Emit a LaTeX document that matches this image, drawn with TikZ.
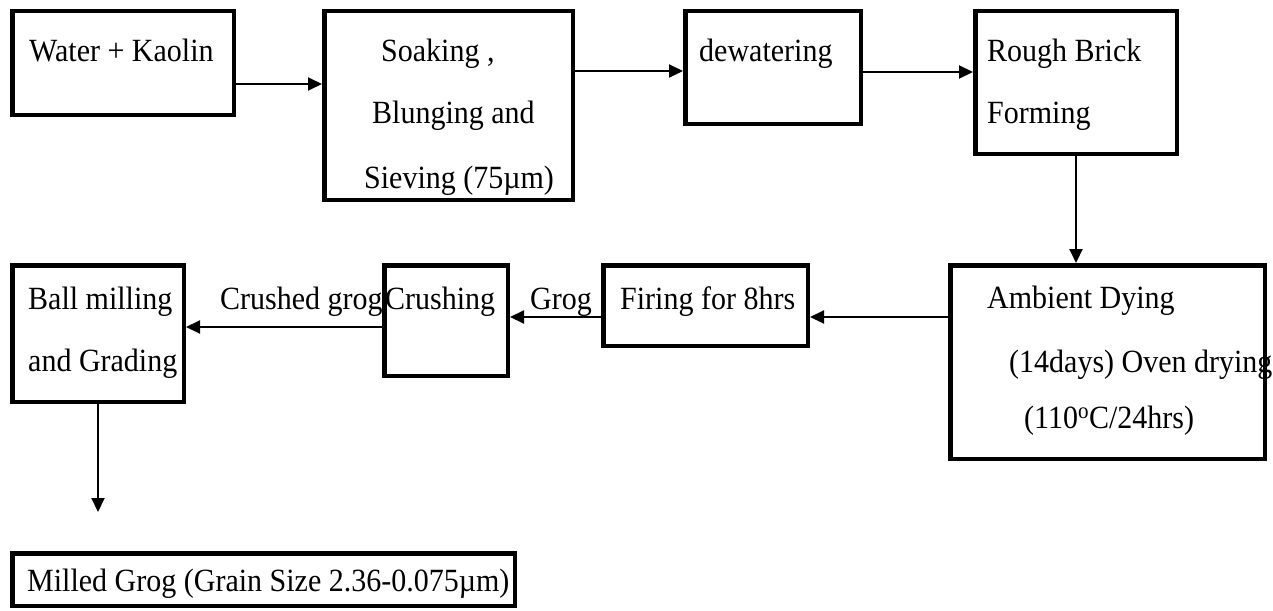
\documentclass[tikz,border=0pt]{standalone}
\usepackage{fontspec}
\setmainfont{Liberation Serif}
\usetikzlibrary{arrows.meta}
% slightly tall text, as in the printed chart
\newcommand{\tall}[1]{\scalebox{1}[1.08]{#1}}
\begin{document}
\begin{tikzpicture}[x=1pt,y=-1pt,
  box/.style={draw,line width=4.5pt,inner sep=0pt},
  txt/.style={anchor=base west,inner sep=0pt,font=\fontsize{30}{36}\selectfont},
  arr/.style={line width=2pt,-{Triangle[length=14pt,width=13pt]}}]
\useasboundingbox (0,0) rectangle (1273,610);

% process boxes
\node[box,minimum width=221.5pt,minimum height=103.5pt] (wk) at (123,63) {};
\node[box,minimum width=248.5pt,minimum height=188.5pt] (soak) at (448.5,105.5) {};
\node[box,minimum width=175.5pt,minimum height=112.5pt] (dew) at (773,67.5) {};
\node[box,minimum width=201.5pt,minimum height=142.5pt] (rough) at (1076,82.5) {};
\node[box,minimum width=314.5pt,minimum height=193.5pt] (amb) at (1107.5,362) {};
\node[box,minimum width=204.5pt,minimum height=80.5pt] (fire) at (705.5,305.5) {};
\node[box,minimum width=123.5pt,minimum height=110.5pt] (crush) at (446,320.5) {};
\node[box,minimum width=171.5pt,minimum height=136.5pt] (ball) at (98,333.5) {};
\node[box,minimum width=502.5pt,minimum height=52.5pt] (milled) at (263.5,579.5) {};

% box texts
\node[txt] (t1) at (29,62) {\tall{Water + Kaolin}};
\node[txt] (t2a) at (381,62) {\tall{Soaking ,}};
\node[txt] (t2b) at (372,123) {\tall{Blunging and}};
\node[txt] (t2c) at (364,188) {\tall{Sieving (75µm)}};
\node[txt] (t3) at (699,62) {\tall{dewatering}};
\node[txt] (t4a) at (987,62) {\tall{Rough Brick}};
\node[txt] (t4b) at (987,123) {\tall{Forming}};
\node[txt] (t5a) at (987,308) {\tall{Ambient Dying}};
\node[txt] (t5b) at (1009,372) {\tall{(14days) Oven drying}};
\node[txt] (t5c) at (1024,428) {\tall{(110\textsuperscript{o}C/24hrs)}};
\node[txt] (t6) at (620,309) {\tall{Firing for 8hrs}};
\node[txt] (t7) at (385,309) {\tall{Crushing}};
\node[txt] (t8a) at (28,309) {\tall{Ball milling}};
\node[txt] (t8b) at (28,371) {\tall{and Grading}};
\node[txt] (t9) at (27,591) {\tall{Milled Grog (Grain Size 2.36-0.075µm)}};

% connector labels
\node[txt] (lg) at (530,309) {\tall{Grog}};
\node[txt] (lcg) at (220,309) {\tall{Crushed grog}};

% connectors
\coordinate (p1) at ([yshift=-21pt]wk.east);
\draw[arr] (p1) -- (p1 -| soak.west);
\coordinate (p2) at ([yshift=34.5pt]soak.east);
\draw[arr] (p2) -- (p2 -| dew.west);
\coordinate (p3) at ([yshift=-4.5pt]dew.east);
\draw[arr] (p3) -- (p3 -| rough.west);
\draw[arr] (rough.south) -- (rough.south |- amb.north);
\coordinate (p5) at ([yshift=45pt]amb.west);
\draw[arr] (p5) -- (p5 -| fire.east);
\coordinate (p6) at ([yshift=-11.5pt]fire.west);
\draw[arr] (p6) -- (p6 -| crush.east);
\coordinate (p7) at ([yshift=-6.5pt]crush.west);
\draw[arr] (p7) -- (p7 -| ball.east);
\coordinate (mt) at (ball.south |- milled.north);
\coordinate (tip) at ([yshift=39pt]mt);
\draw[arr] (ball.south) -- (tip);
\end{tikzpicture}
\end{document}
